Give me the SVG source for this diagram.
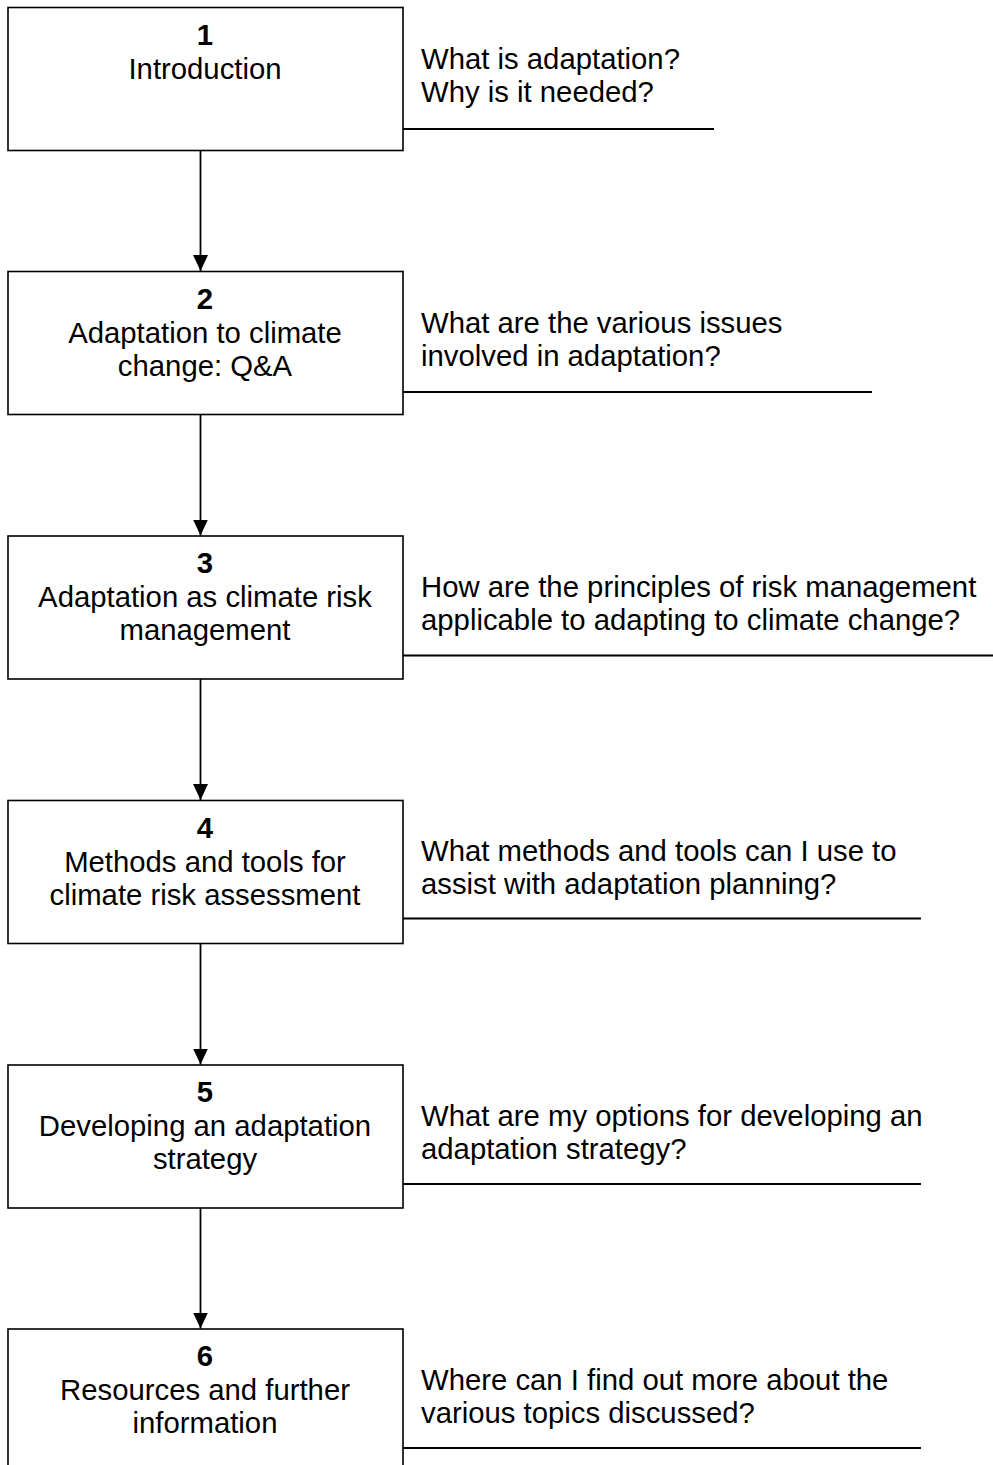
<svg xmlns="http://www.w3.org/2000/svg" width="993" height="1465" viewBox="0 0 993 1465">
<style>
.box{fill:#fff;stroke:#000;stroke-width:1.6}
.t{font-family:"Liberation Sans",Arial,sans-serif;font-size:29.3px;fill:#000}
.c{text-anchor:middle}
.b{font-weight:bold}
.ln{stroke:#000;stroke-width:1.8;fill:none}
</style>
<defs>
<marker id="ah" markerWidth="16" markerHeight="15" refX="16" refY="7.5" orient="auto" markerUnits="userSpaceOnUse" viewBox="0 0 16 15">
<path d="M0,0 L16,7.5 L0,15 Z" fill="#000"/>
</marker>
</defs>
<g id="connectors">
<line class="ln" x1="200.5" y1="150" x2="200.5" y2="271" marker-end="url(#ah)"/>
<line class="ln" x1="200.5" y1="414" x2="200.5" y2="535.5" marker-end="url(#ah)"/>
<line class="ln" x1="200.5" y1="679" x2="200.5" y2="800" marker-end="url(#ah)"/>
<line class="ln" x1="200.5" y1="943" x2="200.5" y2="1064.5" marker-end="url(#ah)"/>
<line class="ln" x1="200.5" y1="1208" x2="200.5" y2="1328.5" marker-end="url(#ah)"/>
<line class="ln" x1="403" y1="129" x2="714" y2="129"/>
<line class="ln" x1="403" y1="392" x2="872" y2="392"/>
<line class="ln" x1="403" y1="655.5" x2="993" y2="655.5"/>
<line class="ln" x1="403" y1="918.5" x2="921" y2="918.5"/>
<line class="ln" x1="403" y1="1184" x2="921" y2="1184"/>
<line class="ln" x1="403" y1="1448" x2="921" y2="1448"/>
</g>
<g id="node1">
<rect class="box" x="8" y="7.5" width="395" height="143"/>
<text class="t c b" x="205" y="45">1</text>
<text class="t c" x="205" y="79">Introduction</text>
<text class="t" x="421" y="69">What is adaptation?</text>
<text class="t" x="421" y="102">Why is it needed?</text>
</g>
<g id="node2">
<rect class="box" x="8" y="271.5" width="395" height="143"/>
<text class="t c b" x="205" y="309">2</text>
<text class="t c" x="205" y="343">Adaptation to climate</text>
<text class="t c" x="205" y="376">change: Q&amp;A</text>
<text class="t" x="421" y="333">What are the various issues</text>
<text class="t" x="421" y="366">involved in adaptation?</text>
</g>
<g id="node3">
<rect class="box" x="8" y="536" width="395" height="143"/>
<text class="t c b" x="205" y="573">3</text>
<text class="t c" x="205" y="607">Adaptation as climate risk</text>
<text class="t c" x="205" y="640">management</text>
<text class="t" x="421" y="597">How are the principles of risk management</text>
<text class="t" x="421" y="630">applicable to adapting to climate change?</text>
</g>
<g id="node4">
<rect class="box" x="8" y="800.5" width="395" height="143"/>
<text class="t c b" x="205" y="838">4</text>
<text class="t c" x="205" y="872">Methods and tools for</text>
<text class="t c" x="205" y="905">climate risk assessment</text>
<text class="t" x="421" y="861">What methods and tools can I use to</text>
<text class="t" x="421" y="894">assist with adaptation planning?</text>
</g>
<g id="node5">
<rect class="box" x="8" y="1065" width="395" height="143"/>
<text class="t c b" x="205" y="1102">5</text>
<text class="t c" x="205" y="1136">Developing an adaptation</text>
<text class="t c" x="205" y="1169">strategy</text>
<text class="t" x="421" y="1126">What are my options for developing an</text>
<text class="t" x="421" y="1159">adaptation strategy?</text>
</g>
<g id="node6">
<rect class="box" x="8" y="1329" width="395" height="143"/>
<text class="t c b" x="205" y="1366">6</text>
<text class="t c" x="205" y="1400">Resources and further</text>
<text class="t c" x="205" y="1433">information</text>
<text class="t" x="421" y="1390">Where can I find out more about the</text>
<text class="t" x="421" y="1423">various topics discussed?</text>
</g>
</svg>
